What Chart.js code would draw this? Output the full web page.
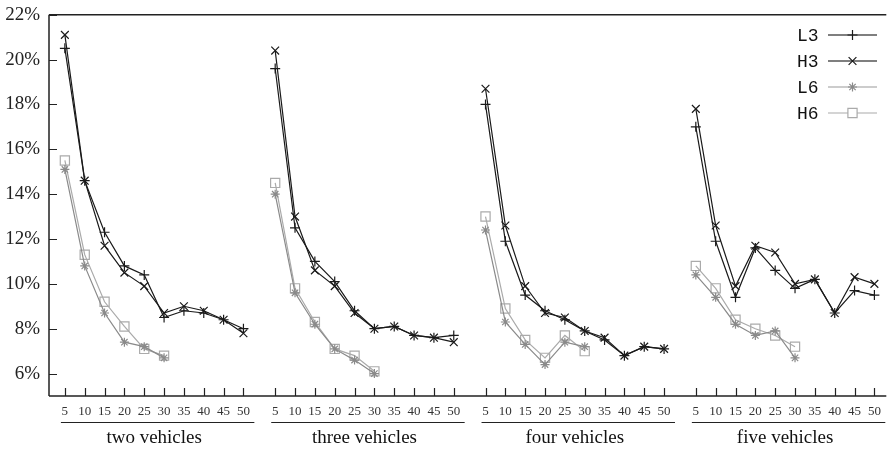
<!DOCTYPE html>
<html>
<head>
<meta charset="utf-8">
<script src="https://cdn.jsdelivr.net/npm/chart.js@4/dist/chart.umd.min.js"></script>
<style>
  body { margin: 0; background: #fff; }
  canvas { display: block; }
</style>
</head>
<body>
<canvas id="chart" width="894" height="450"></canvas>
<script>
// fleet sizes on the x axis, one group per number of vehicles
const sizes = [5, 10, 15, 20, 25, 30, 35, 40, 45, 50];
const groups = ['two vehicles', 'three vehicles', 'four vehicles', 'five vehicles'];
const yTicks = [6, 8, 10, 12, 14, 16, 18, 20, 22];

// values in %, one row per group
const L3 = [
  [20.5, 14.6, 12.3, 10.8, 10.4, 8.5, 8.8, 8.7, 8.4, 8.0],
  [19.6, 12.5, 11.0, 10.1, 8.8, 8.0, 8.1, 7.7, 7.6, 7.7],
  [18.0, 11.9, 9.5, 8.8, 8.4, 7.9, 7.5, 6.8, 7.2, 7.1],
  [17.0, 11.9, 9.4, 11.6, 10.6, 9.8, 10.2, 8.7, 9.7, 9.5]
];
const H3 = [
  [21.1, 14.6, 11.7, 10.5, 9.9, 8.7, 9.0, 8.8, 8.4, 7.8],
  [20.4, 13.0, 10.6, 9.9, 8.7, 8.0, 8.1, 7.7, 7.6, 7.4],
  [18.7, 12.6, 9.9, 8.7, 8.5, 7.9, 7.6, 6.8, 7.2, 7.1],
  [17.8, 12.6, 9.9, 11.7, 11.4, 10.0, 10.2, 8.7, 10.3, 10.0]
];
const L6 = [
  [15.1, 10.8, 8.7, 7.4, 7.2, 6.7],
  [14.0, 9.6, 8.2, 7.1, 6.6, 6.0],
  [12.4, 8.3, 7.3, 6.4, 7.4, 7.2],
  [10.4, 9.4, 8.2, 7.7, 7.9, 6.7]
];
const H6 = [
  [15.5, 11.3, 9.2, 8.1, 7.1, 6.8],
  [14.5, 9.8, 8.3, 7.1, 6.8, 6.1],
  [13.0, 8.9, 7.5, 6.7, 7.7, 7.0],
  [10.8, 9.8, 8.4, 8.0, 7.7, 7.2]
];

// layout of the groups along one linear axis
const PANEL = 10.6;
const OFFSET = 0.8;
const pos = (g, i) => g * PANEL + OFFSET + i;

const series = [
  { name: 'L3', data: L3, color: '#1a1a1a', legendColor: '#555', style: 'cross', radius: 5 },
  { name: 'H3', data: H3, color: '#1a1a1a', legendColor: '#555', style: 'crossRot', radius: 5.5 },
  { name: 'L6', data: L6, color: '#8a8a8a', legendColor: '#999', style: 'star', radius: 4.5 },
  { name: 'H6', data: H6, color: '#aaaaaa', legendColor: '#aaa', style: 'rect', radius: 6.5 }
];

const datasets = [];
series.forEach(s => {
  s.data.forEach((row, g) => {
    datasets.push({
      label: s.name,
      data: row.map((v, i) => ({ x: pos(g, i), y: v })),
      borderColor: s.color,
      backgroundColor: '#fff',
      borderWidth: 1.2,
      pointStyle: s.style,
      pointRadius: s.radius,
      pointBorderColor: s.color,
      pointBackgroundColor: 'rgba(255,255,255,0)',
      pointBorderWidth: 1.2,
      tension: 0
    });
  });
});

const tickPositions = [];
groups.forEach((g, gi) => sizes.forEach((s, i) => tickPositions.push(pos(gi, i))));

const serif = '"Liberation Serif", "DejaVu Serif", serif';

const decor = {
  id: 'decor',
  afterDraw(chart) {
    const ctx = chart.ctx;
    const a = chart.chartArea;
    const x = chart.scales.x, y = chart.scales.y;
    ctx.save();
    ctx.strokeStyle = '#222';
    ctx.lineWidth = 1.5;
    ctx.beginPath();
    ctx.moveTo(a.left, a.top); ctx.lineTo(a.right, a.top);
    ctx.moveTo(a.left, a.top); ctx.lineTo(a.left, a.bottom);
    ctx.moveTo(a.left, a.bottom); ctx.lineTo(a.right, a.bottom);
    ctx.stroke();

    // inward ticks
    ctx.lineWidth = 1.2;
    ctx.beginPath();
    tickPositions.forEach(v => {
      const px = Math.round(x.getPixelForValue(v)) + 0.5;
      ctx.moveTo(px, a.bottom); ctx.lineTo(px, a.bottom - 8);
    });
    yTicks.forEach(v => {
      const py = Math.round(y.getPixelForValue(v)) + 0.5;
      ctx.moveTo(a.left, py); ctx.lineTo(a.left + 8, py);
    });
    ctx.stroke();

    // group captions
    ctx.fillStyle = '#111';
    ctx.font = '19px ' + serif;
    ctx.textAlign = 'center';
    ctx.textBaseline = 'middle';
    groups.forEach((name, g) => {
      const x0 = x.getPixelForValue(g * PANEL + 0.6);
      const x1 = Math.min(x.getPixelForValue(g * PANEL + 10.35), a.right);
      ctx.beginPath();
      ctx.moveTo(x0, 422.5); ctx.lineTo(x1, 422.5);
      ctx.stroke();
      const c = (x.getPixelForValue(pos(g, 0)) + x.getPixelForValue(pos(g, 9))) / 2;
      ctx.fillText(name, c, 438);
    });

    // legend
    ctx.font = '18px "Liberation Mono", "DejaVu Sans Mono", monospace';
    ctx.textAlign = 'left';
    series.forEach((s, i) => {
      const ly = 35 + i * 26;
      ctx.fillStyle = '#111';
      ctx.fillText(s.name, 797, ly + 1);
      ctx.strokeStyle = s.legendColor;
      ctx.lineWidth = i < 2 ? 1.6 : 1.2;
      ctx.beginPath();
      ctx.moveTo(828, ly); ctx.lineTo(877, ly);
      ctx.stroke();
      ctx.strokeStyle = s.color;
      ctx.fillStyle = '#fff';
      ctx.lineWidth = 1.2;
      Chart.helpers.drawPoint(ctx, { pointStyle: s.style, radius: s.radius, rotation: 0, borderWidth: 1.2 }, 852.5, ly);
    });
    ctx.restore();
  }
};

new Chart(document.getElementById('chart'), {
  type: 'line',
  data: { datasets: datasets },
  plugins: [decor],
  options: {
    responsive: false,
    animation: false,
    layout: { padding: { top: 11, right: 1, left: 0, bottom: 0 } },
    plugins: { legend: { display: false }, tooltip: { enabled: false } },
    scales: {
      x: {
        type: 'linear',
        min: 0,
        max: 42.2,
        grid: { display: false, drawTicks: false },
        border: { display: false },
        afterFit: s => { s.height = 54; },
        afterBuildTicks: s => { s.ticks = tickPositions.map(v => ({ value: v })); },
        ticks: {
          autoSkip: false,
          maxRotation: 0,
          padding: 8,
          color: '#333',
          font: { family: serif, size: 13 },
          callback: (v, i) => sizes[i % sizes.length]
        }
      },
      y: {
        min: 5,
        max: 22,
        grid: { display: false, drawTicks: false },
        border: { display: false },
        afterFit: s => { s.width = 49; },
        afterBuildTicks: s => { s.ticks = yTicks.map(v => ({ value: v })); },
        ticks: {
          padding: 9,
          color: '#222',
          font: { family: serif, size: 19, lineHeight: 0.6 },
          callback: v => v + '%'
        }
      }
    }
  }
});
</script>
</body>
</html>
